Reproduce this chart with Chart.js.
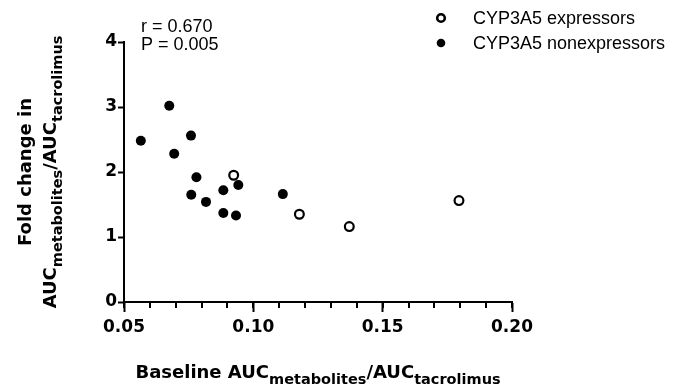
<!DOCTYPE html>
<html lang="en">
<head>
<meta charset="UTF-8">
<title>Fold change vs baseline AUC ratio</title>
<script src="https://cdn.jsdelivr.net/npm/chart.js"></script>
<style>
  html, body { margin: 0; padding: 0; background: #fff; }
  #wrap { width: 676px; height: 387px; }
</style>
</head>
<body>
<div id="wrap"><canvas id="chart" width="676" height="387"></canvas></div>
<script>
// values
const seriesLabels = ['CYP3A5 expressors', 'CYP3A5 nonexpressors'];
const expressorsX = [0.0924, 0.1178, 0.1371, 0.1795];
const expressorsY = [1.95, 1.35, 1.16, 1.56];
const nonexpressorsX = [0.0565, 0.0675, 0.0694, 0.0759, 0.0780, 0.0760, 0.0817, 0.0884, 0.0884, 0.0933, 0.0942, 0.1114];
const nonexpressorsY = [2.48, 3.02, 2.28, 2.56, 1.92, 1.65, 1.54, 1.72, 1.37, 1.33, 1.80, 1.66];
const xTicks = [0.05, 0.10, 0.15, 0.20];
const xMinorStep = 0.01;
const yTicks = [0, 1, 2, 3, 4];
const statsText = ['r = 0.670', 'P = 0.005'];
const xTitle = [['Baseline AUC', false], ['metabolites', true], ['/AUC', false], ['tacrolimus', true]];
const yTitle1 = 'Fold change in';
const yTitle2 = [['AUC', false], ['metabolites', true], ['/AUC', false], ['tacrolimus', true]];

const BOLD = "bold 18px 'DejaVu Sans'";
const BOLD_SUB = "bold 14.5px 'DejaVu Sans'";
const REG = "18px 'Liberation Sans', Arial, sans-serif";

function toPoints(xs, ys) {
    return xs.map((x, i) => ({ x: x, y: ys[i] }));
}

// text with subscripts, centred on x, baseline y
function drawRich(ctx, parts, cx, y) {
    let total = 0;
    parts.forEach(p => { ctx.font = p[1] ? BOLD_SUB : BOLD; total += ctx.measureText(p[0]).width; });
    let x = cx - total / 2;
    ctx.textAlign = 'left';
    ctx.textBaseline = 'alphabetic';
    parts.forEach(p => {
        ctx.font = p[1] ? BOLD_SUB : BOLD;
        ctx.fillText(p[0], x, p[1] ? y + 5.5 : y);
        x += ctx.measureText(p[0]).width;
    });
}

const decor = {
    id: 'decor',
    afterDraw(chart) {
        const ctx = chart.ctx;
        const xs = chart.scales.x;
        const area = chart.chartArea;
        ctx.save();
        ctx.fillStyle = '#000';
        ctx.strokeStyle = '#000';

        // minor ticks on x
        ctx.lineWidth = 2;
        const n = Math.round((xs.max - xs.min) / xMinorStep);
        for (let k = 0; k <= n; k++) {
            const px = Math.round(xs.getPixelForValue(xs.min + k * xMinorStep));
            ctx.beginPath();
            ctx.moveTo(px, area.bottom);
            ctx.lineTo(px, area.bottom + 6);
            ctx.stroke();
        }

        // stats
        ctx.font = REG;
        ctx.textAlign = 'left';
        ctx.textBaseline = 'alphabetic';
        ctx.fillText(statsText[0], 141, 31.5);
        ctx.fillText(statsText[1], 141, 50);

        // legend
        const rows = [18, 43];
        chart.data.datasets.forEach((ds, i) => {
            ctx.beginPath();
            if (ds.backgroundColor === '#fff') {
                ctx.lineWidth = 2.6;
                ctx.arc(441, rows[i], 3.8, 0, Math.PI * 2);
                ctx.stroke();
            } else {
                ctx.arc(441, rows[i], 4.3, 0, Math.PI * 2);
                ctx.fill();
            }
            ctx.font = REG;
            ctx.textBaseline = 'middle';
            ctx.fillText(ds.label, 473, rows[i] + 1);
        });

        // axis titles
        drawRich(ctx, xTitle, (area.left + area.right) / 2, 378);
        const cy = (area.top + area.bottom) / 2;
        ctx.save();
        ctx.translate(31, cy);
        ctx.rotate(-Math.PI / 2);
        ctx.font = BOLD;
        ctx.textAlign = 'center';
        ctx.textBaseline = 'alphabetic';
        ctx.fillText(yTitle1, 0, 0);
        ctx.restore();
        ctx.save();
        ctx.translate(56, cy);
        ctx.rotate(-Math.PI / 2);
        drawRich(ctx, yTitle2, 0, 0);
        ctx.restore();

        ctx.restore();
    }
};

const tickFont = { family: 'DejaVu Sans', weight: 'bold', size: 17 };

new Chart(document.getElementById('chart'), {
    type: 'scatter',
    data: {
        datasets: [
            {
                label: seriesLabels[0],
                data: toPoints(expressorsX, expressorsY),
                pointRadius: 4.4,
                borderWidth: 2.2,
                borderColor: '#000',
                backgroundColor: '#fff',
                order: 1
            },
            {
                label: seriesLabels[1],
                data: toPoints(nonexpressorsX, nonexpressorsY),
                pointRadius: 5,
                borderWidth: 0,
                borderColor: '#000',
                backgroundColor: '#000',
                order: 0
            }
        ]
    },
    options: {
        responsive: false,
        animation: false,
        devicePixelRatio: 1,
        layout: { padding: { left: 0, right: 164, top: 42, bottom: 0 } },
        plugins: {
            legend: { display: false },
            tooltip: { enabled: false }
        },
        scales: {
            x: {
                type: 'linear',
                min: 0.05,
                max: 0.20,
                afterBuildTicks: s => { s.ticks = xTicks.map(v => ({ value: v })); },
                afterFit: s => { s.height = 85; },
                grid: { drawOnChartArea: false, tickLength: 10, tickWidth: 2, tickColor: '#000' },
                border: { color: '#000', width: 2 },
                ticks: { color: '#000', font: tickFont, padding: 5, maxRotation: 0, autoSkip: false,
                         callback: v => v.toFixed(2) }
            },
            y: {
                min: 0,
                max: 4,
                afterBuildTicks: s => { s.ticks = yTicks.map(v => ({ value: v })); },
                afterFit: s => { s.width = 124; },
                grid: { drawOnChartArea: false, tickLength: 6, tickWidth: 2, tickColor: '#000' },
                border: { color: '#000', width: 2 },
                ticks: { color: '#000', font: tickFont, padding: 1, callback: v => String(v) }
            }
        }
    },
    plugins: [decor]
});
</script>
</body>
</html>
